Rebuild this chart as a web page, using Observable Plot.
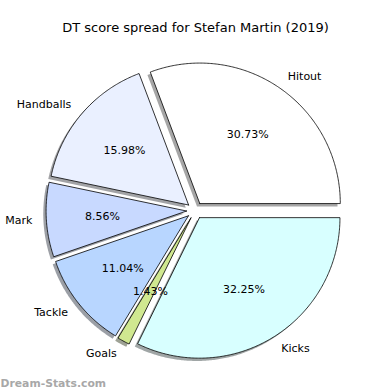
<!DOCTYPE html>
<html><head><meta charset="utf-8">
<script src="https://cdn.jsdelivr.net/npm/d3@7"></script>
<script src="https://cdn.jsdelivr.net/npm/@observablehq/plot@0.6"></script>
<style>body{margin:0;background:#fff} #chart{width:390px;height:390px}</style>
</head><body><div id="chart"></div>
<script>
const title = "DT score spread for Stefan Martin (2019)";
const watermark = "Dream-Stats.com";
const categories = ["Hitout", "Handballs", "Mark", "Tackle", "Goals", "Kicks"];
const shares = [30.73, 15.98, 8.56, 11.04, 1.43, 32.25];
const colors = ["#ffffff", "#eaf0ff", "#c8d9ff", "#b8d6ff", "#d0e890", "#d8ffff"];
const explode = [0.06, 0.06, 0.06, 0.06, 0.06, 0.06];

const W = 390, H = 390, CX = 194.5, CY = 210, R = 140.5;
const total = d3.sum(shares);
let acc = 0;
const slices = categories.map((name, i) => {
  const a0 = acc / total * 2 * Math.PI;
  acc += shares[i];
  const a1 = acc / total * 2 * Math.PI;
  const am = (a0 + a1) / 2;
  const ox = explode[i] * Math.cos(am), oy = explode[i] * Math.sin(am);
  return {name, i, a0, a1, am, ox, oy, color: colors[i], pct: (shares[i] / total * 100).toFixed(2) + "%"};
});

function poly(s, dx, dy, fill) {
  const pts = [];
  const n = Math.max(2, Math.ceil((s.a1 - s.a0) / 0.01));
  pts.push({k: s.name, x: s.ox + dx, y: s.oy + dy, fill});
  for (let j = 0; j <= n; j++) {
    const a = s.a0 + (s.a1 - s.a0) * j / n;
    pts.push({k: s.name, x: s.ox + dx + Math.cos(a), y: s.oy + dy + Math.sin(a), fill});
  }
  pts.push({k: s.name, x: s.ox + dx, y: s.oy + dy, fill});
  return pts;
}
const shadowPts = slices.flatMap(s => {
  const c = d3.rgb(s.color);
  const sc = d3.rgb(c.r * 0.3, c.g * 0.3, c.b * 0.3).formatHex();
  return poly(s, -0.02, -0.02, sc);
});
const slicePts = slices.flatMap(s => poly(s, 0, 0, s.color));

const labels = slices.map(s => ({
  name: s.name,
  x: s.ox + 1.1 * Math.cos(s.am),
  y: s.oy + 1.1 * Math.sin(s.am),
  px: s.ox + 0.6 * Math.cos(s.am),
  py: s.oy + 0.6 * Math.sin(s.am),
  pct: s.pct
}));

const font = "DejaVu Sans";
const chart = Plot.plot({
  width: W, height: H, margin: 0,
  style: {fontFamily: font, background: "#fff"},
  x: {domain: [-CX / R, (W - CX) / R], range: [0, W], axis: null},
  y: {domain: [-(H - CY) / R, CY / R], range: [H, 0], axis: null},
  color: {type: "identity"},
  marks: [
    Plot.line(shadowPts, {x: "x", y: "y", z: "k", fill: "fill", fillOpacity: 0.5, stroke: "none"}),
    Plot.line(slicePts, {x: "x", y: "y", z: "k", fill: "fill", stroke: "black", strokeWidth: 0.8, strokeLinejoin: "miter"}),
    Plot.text(labels.filter(d => d.x >= 0), {x: "x", y: "y", text: "name", textAnchor: "start", fontSize: 11, fill: "black"}),
    Plot.text(labels.filter(d => d.x < 0), {x: "x", y: "y", text: "name", textAnchor: "end", fontSize: 11, fill: "black"}),
    Plot.text(labels, {x: "px", y: "py", text: "pct", fontSize: 11, fill: "black"}),
    Plot.text([title], {frameAnchor: "top", dy: 22, fontSize: 13, fill: "black"}),
    Plot.text([watermark], {frameAnchor: "bottom-left", dy: -4, fontSize: 10.8, fontWeight: "bold", fill: "#a8a8a8"})
  ]
});
document.getElementById("chart").appendChild(chart);
</script>
</body></html>
